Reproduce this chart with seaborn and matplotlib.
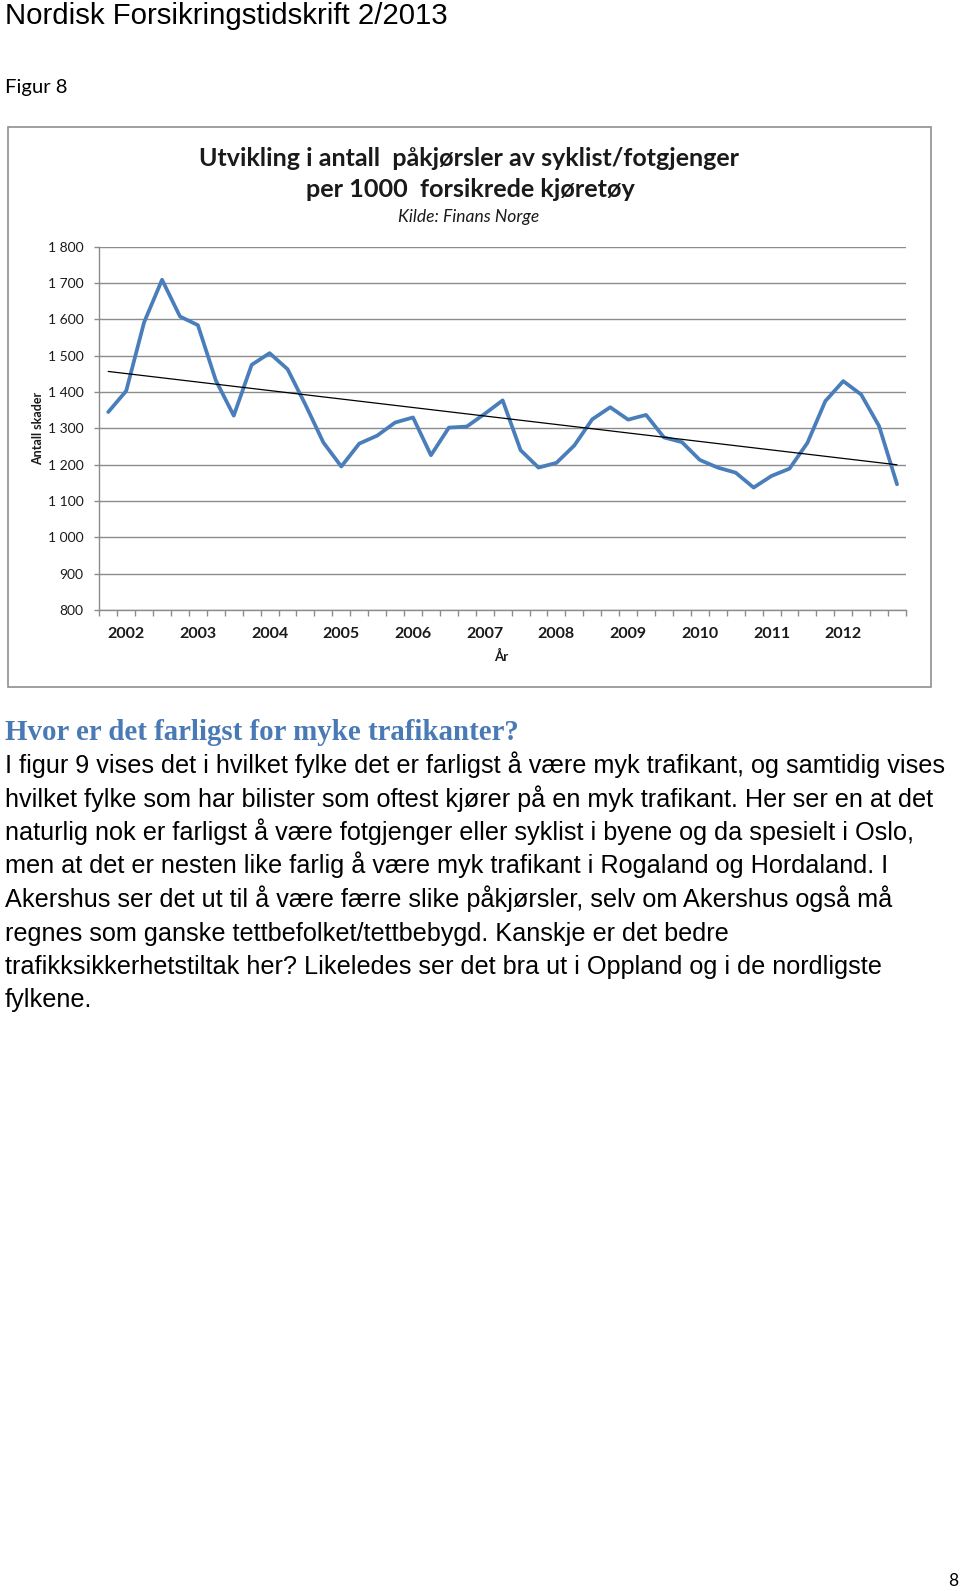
import numpy as np
import pandas as pd
import matplotlib
matplotlib.use("Agg")
import matplotlib.pyplot as plt
import seaborn as sns
from matplotlib.patches import Rectangle

# ---------------- data ----------------
years = ["2002", "2003", "2004", "2005", "2006", "2007",
         "2008", "2009", "2010", "2011", "2012"]
quarter_index = list(range(45))  # 2002 Q1 ... 2013 Q1
skader = [1345, 1403, 1592, 1709, 1608, 1584, 1432, 1335,
          1475, 1507, 1463, 1365, 1261, 1195, 1258, 1280,
          1316, 1330, 1226, 1302, 1305, 1340, 1377, 1240,
          1192, 1205, 1253, 1325, 1358, 1324, 1337, 1275,
          1262, 1213, 1192, 1178, 1137, 1169, 1189, 1260,
          1375, 1430, 1393, 1306, 1146]
y_ticks = list(range(800, 1900, 100))

title1 = "Utvikling i antall  påkjørsler av syklist/fotgjenger"
title2 = "per 1000  forsikrede kjøretøy"
subtitle = "Kilde: Finans Norge"
y_label = "Antall skader"
x_label = "År"

header = "Nordisk Forsikringstidskrift 2/2013"
figure_label = "Figur 8"
heading = "Hvor er det farligst for myke trafikanter?"
body_lines = [
    "I figur 9 vises det i hvilket fylke det er farligst å være myk trafikant, og samtidig vises",
    "hvilket fylke som har bilister som oftest kjører på en myk trafikant. Her ser en at det",
    "naturlig nok er farligst å være fotgjenger eller syklist i byene og da spesielt i Oslo,",
    "men at det er nesten like farlig å være myk trafikant i Rogaland og Hordaland. I",
    "Akershus ser det ut til å være færre slike påkjørsler, selv om Akershus også må",
    "regnes som ganske tettbefolket/tettbebygd. Kanskje er det bedre",
    "trafikksikkerhetstiltak her? Likeledes ser det bra ut i Oppland og i de nordligste",
    "fylkene.",
]
page_number = "8"

# ---------------- figure ----------------
sns.set_theme(style="white")
plt.rcParams['font.family'] = ['Lato', 'DejaVu Sans']

W, H = 960, 1591
fig = plt.figure(figsize=(W / 100, H / 100), dpi=100)
fig.patch.set_facecolor("white")
renderer = fig.canvas.get_renderer()


def fx(px):
    return px / W


def fy(py):
    return 1 - py / H


def fit_text(x, y, s, width, size0, **kw):
    t = fig.text(fx(x), fy(y), s, fontsize=size0, **kw)
    bb = t.get_window_extent(renderer)
    t.set_fontsize(size0 * width / bb.width)
    return t


# chart frame
fig.patches.append(Rectangle((fx(8), fy(687)), fx(931) - fx(8), (687 - 127) / H,
                             transform=fig.transFigure, fill=False,
                             edgecolor="#8f8f8f", lw=1.2))

ax_l, ax_r, ax_t, ax_b = 99.3, 906, 246.7, 610
ax = fig.add_axes([fx(ax_l), fy(ax_b), (ax_r - ax_l) / W, (ax_b - ax_t) / H])

df = pd.DataFrame({"kvartal": quarter_index, "skader": skader})
sns.lineplot(data=df, x="kvartal", y="skader", ax=ax, color="#4a7ebb",
             lw=2.7, zorder=3)
sns.regplot(data=df, x="kvartal", y="skader", ax=ax, scatter=False, ci=None,
            truncate=True, color="black", line_kws={"lw": 0.9, "zorder": 4})

ax.set_xlim(-0.5, 44.5)
ax.set_ylim(800, 1800)
ax.set_yticks(y_ticks)
ax.set_yticklabels([f"{v:,}".replace(",", " ") for v in y_ticks],
                   fontsize=10, color="#1a1a1a")
ax.yaxis.grid(True, color="#8c8c8c", lw=1.0)
ax.set_axisbelow(True)
ax.tick_params(axis="y", which="major", left=True, length=3.5, width=1,
               color="#8c8c8c", pad=8)

ax.set_xticks(np.arange(-0.5, 45, 1))
ax.set_xticklabels([])
ax.set_xticks([1 + 4 * k for k in range(len(years))], minor=True)
ax.set_xticklabels(years, minor=True, fontsize=11.5, fontweight="bold",
                   color="#1a1a1a")
ax.tick_params(axis="x", which="major", bottom=True, length=4, width=1,
               color="#8c8c8c")
ax.tick_params(axis="x", which="minor", bottom=True, length=0, pad=12)

for s in ["top", "right"]:
    ax.spines[s].set_visible(False)
for s in ["left", "bottom"]:
    ax.spines[s].set_color("#8c8c8c")
    ax.spines[s].set_linewidth(1.0)

ax.set_xlabel(x_label, fontsize=9.5, fontweight="bold", color="#1a1a1a")
ax.xaxis.set_label_coords(0.498, -0.111)
ax.set_ylabel(y_label, fontsize=9, fontweight="bold", color="#1a1a1a")
ax.yaxis.set_label_coords(-0.069, 0.5)

# chart titles
fit_text(469, 165.5, title1, 540, 15, fontweight="bold", ha="center",
         va="baseline", color="#1a1a1a")
fit_text(470, 197, title2, 331, 15, fontweight="bold", ha="center",
         va="baseline", color="#1a1a1a")
fit_text(469, 222, subtitle, 142, 10, style="italic", ha="center",
         va="baseline", color="#1a1a1a")

# page text
fit_text(5, 24, header, 442, 19, family=["Liberation Sans", "DejaVu Sans"],
         va="baseline", color="black")
fit_text(5, 92.5, figure_label, 62, 13, va="baseline", color="black")
fit_text(5, 740, heading, 515, 17, family=["Liberation Serif", "DejaVu Serif"],
         fontweight="bold", va="baseline", color="#4a7ab5")

t0 = fit_text(5, 773, body_lines[0], 939, 15,
              family=["Liberation Sans", "DejaVu Sans"], va="baseline",
              color="black")
body_size = t0.get_fontsize()
for i, line in enumerate(body_lines[1:], start=1):
    fig.text(fx(5), fy(773 + 33.5 * i), line, fontsize=body_size,
             family=["Liberation Sans", "DejaVu Sans"], va="baseline",
             color="black")

fig.text(fx(948), fy(1586), page_number, fontsize=12.5, va="baseline",
         color="black")

fig.savefig("out.png", dpi=100, facecolor="white")
